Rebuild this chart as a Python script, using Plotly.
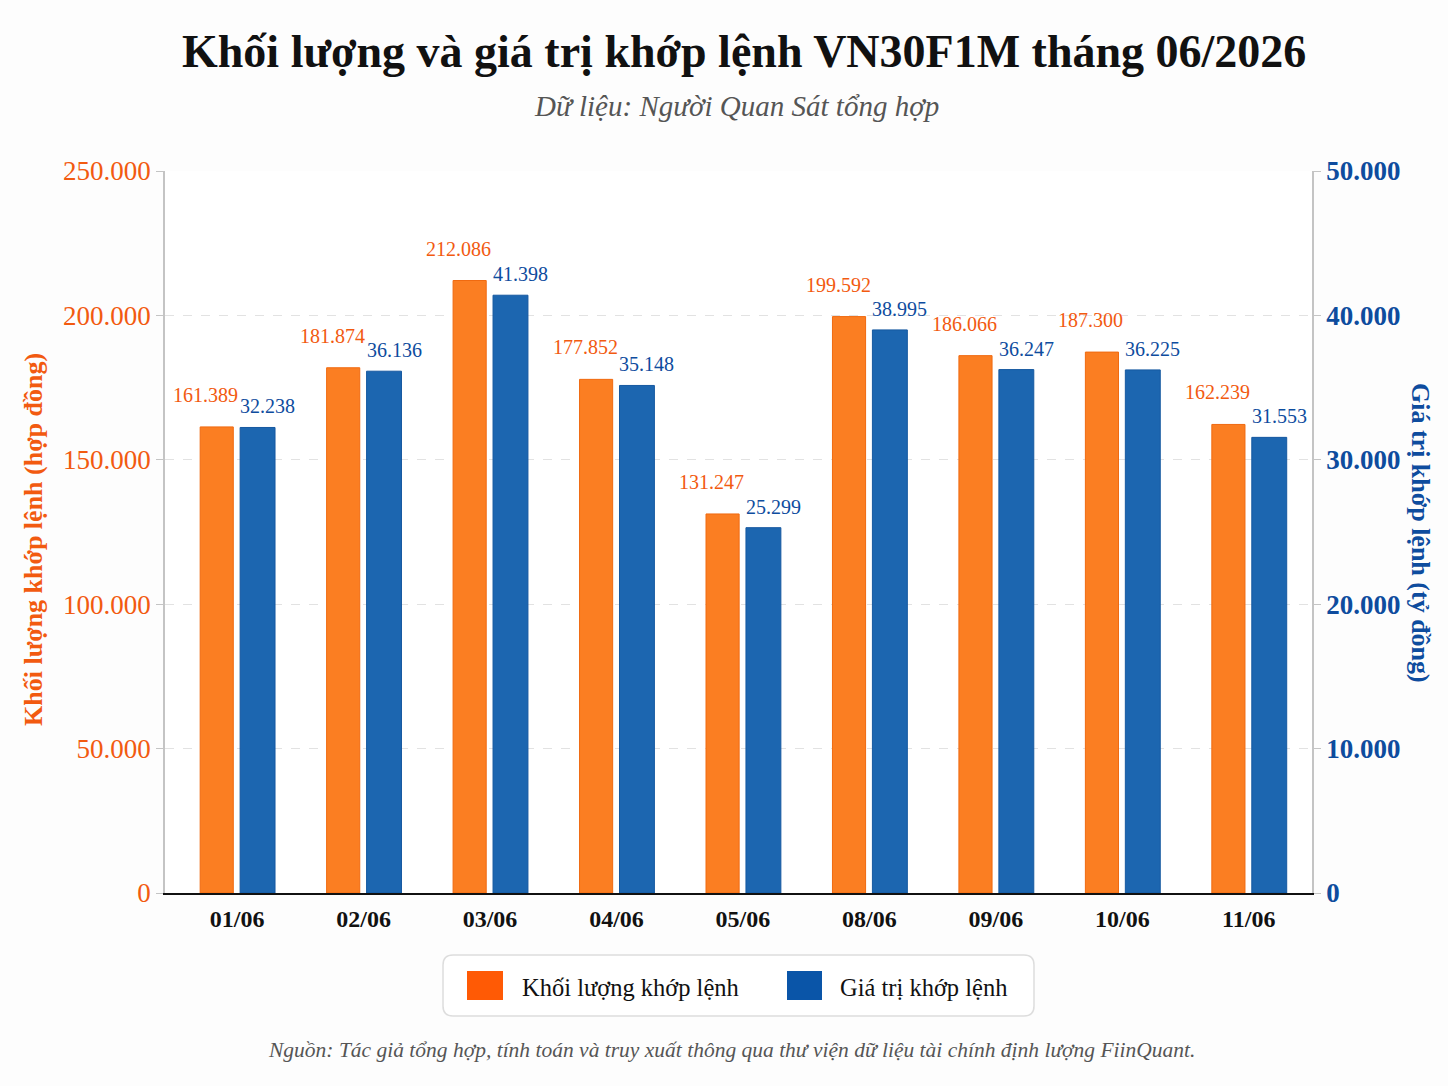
import plotly.graph_objects as go

# ---------------- data ----------------
dates = ["01/06", "02/06", "03/06", "04/06", "05/06", "08/06", "09/06", "10/06", "11/06"]
volume = [161389, 181874, 212086, 177852, 131247, 199592, 186066, 187300, 162239]
value = [32238, 36136, 41398, 35148, 25299, 38995, 36247, 36225, 31553]
left_ticks = [0, 50000, 100000, 150000, 200000, 250000]
right_ticks = [0, 10000, 20000, 30000, 40000, 50000]

title = "Khối lượng và giá trị khớp lệnh VN30F1M tháng 06/2026"
subtitle = "Dữ liệu: Người Quan Sát tổng hợp"
source = "Nguồn: Tác giả tổng hợp, tính toán và truy xuất thông qua thư viện dữ liệu tài chính định lượng FiinQuant."
name_vol = "Khối lượng khớp lệnh"
name_val = "Giá trị khớp lệnh"
ytitle_left = "Khối lượng khớp lệnh (hợp đồng)"
ytitle_right = "Giá trị khớp lệnh (tỷ đồng)"

# ---------------- style ----------------
W, H = 1448, 1086
ML, MR, MT, MB = 165, 136, 171, 193
PW, PH = W - ML - MR, H - MT - MB
SERIF = "Liberation Serif, DejaVu Serif, serif"
ORANGE_BAR = "#FB7E22"
BLUE_BAR = "#1C66B0"
ORANGE_TXT = "#F25A10"
BLUE_TXT = "#0E4C9E"
ORANGE_SW = "#FF5A05"
BLUE_SW = "#0A55A8"


def fmt(v):
    return f"{v:,}".replace(",", ".")


def px_x(x):
    return (x - ML) / PW


def px_y(y):
    return (H - MB - y) / PH


idx = list(range(len(dates)))
W_OR, OFF_OR = 0.262, -0.292
W_BL, OFF_BL = 0.276, 0.024

fig = go.Figure()
fig.add_trace(go.Bar(
    x=idx, y=volume, name=name_vol, width=W_OR, offset=OFF_OR,
    marker=dict(color=ORANGE_BAR, line=dict(color="#F06A10", width=1)),
    yaxis="y", showlegend=False, hoverinfo="skip",
))
fig.add_trace(go.Bar(
    x=idx, y=value, name=name_val, width=W_BL, offset=OFF_BL,
    marker=dict(color=BLUE_BAR, line=dict(color="#1558A0", width=1)),
    yaxis="y2", showlegend=False, hoverinfo="skip",
))

ann = []
for i, v in enumerate(volume):
    ann.append(dict(x=i + OFF_OR + W_OR / 2, y=v, xref="x", yref="y", text=fmt(v),
                    showarrow=False, yanchor="middle", xanchor="center", yshift=32, xshift=-11,
                    font=dict(family=SERIF, size=20, color=ORANGE_TXT)))
for i, v in enumerate(value):
    ann.append(dict(x=i + OFF_BL + W_BL / 2, y=v, xref="x", yref="y2", text=fmt(v),
                    showarrow=False, yanchor="middle", xanchor="center", yshift=21, xshift=10,
                    font=dict(family=SERIF, size=20, color=BLUE_TXT)))

pix = []
# titles (pixel positions)
pix.append(dict(x=744, y=52, text=f"<b>{title}</b>", xanchor="center",
                font=dict(family=SERIF, size=46, color="#111111")))
pix.append(dict(x=736, y=106, text=f"<i>{subtitle}</i>", xanchor="center",
                font=dict(family=SERIF, size=29, color="#555555")))
pix.append(dict(x=731, y=1050, text=f"<i>{source}</i>", xanchor="center",
                font=dict(family=SERIF, size=21.5, color="#555555")))
# axis titles
pix.append(dict(x=33, y=540, text=f"<b>{ytitle_left}</b>", xanchor="center", textangle=-90,
                font=dict(family=SERIF, size=26, color=ORANGE_TXT)))
pix.append(dict(x=1421, y=533, text=f"<b>{ytitle_right}</b>", xanchor="center", textangle=90,
                font=dict(family=SERIF, size=26, color=BLUE_TXT)))
# legend text
pix.append(dict(x=520, y=987, text=name_vol, xanchor="left",
                font=dict(family=SERIF, size=24.5, color="#111111")))
pix.append(dict(x=838, y=987, text=name_val, xanchor="left",
                font=dict(family=SERIF, size=24.5, color="#111111")))

for a in pix:
    a.update(xref="paper", yref="paper", showarrow=False, yanchor="middle",
             x=px_x(a["x"]), y=px_y(a["y"]))
    ann.append(a)

shapes = []
# legend box (rounded)
x0, x1, y0, y1, r = 443, 1034, 955, 1016, 10


def P(x, y):
    return f"{px_x(x)},{px_y(y)}"


path = (f"M {P(x0 + r, y0)} L {P(x1 - r, y0)} Q {P(x1, y0)} {P(x1, y0 + r)} "
        f"L {P(x1, y1 - r)} Q {P(x1, y1)} {P(x1 - r, y1)} L {P(x0 + r, y1)} "
        f"Q {P(x0, y1)} {P(x0, y1 - r)} L {P(x0, y0 + r)} Q {P(x0, y0)} {P(x0 + r, y0)} Z")
shapes.append(dict(type="path", path=path, xref="paper", yref="paper",
                   line=dict(color="#DDDDDD", width=1.5), fillcolor="white", layer="below"))
shapes.append(dict(type="rect", xref="paper", yref="paper", x0=px_x(467), x1=px_x(503), y0=px_y(1000), y1=px_y(971),
                   fillcolor=ORANGE_SW, line=dict(width=0)))
shapes.append(dict(type="rect", xref="paper", yref="paper", x0=px_x(787), x1=px_x(822), y0=px_y(1000), y1=px_y(971),
                   fillcolor=BLUE_SW, line=dict(width=0)))

fig.update_layout(
    width=W, height=H,
    margin=dict(l=ML, r=MR, t=MT, b=MB, pad=0),
    paper_bgcolor="#FDFDFD", plot_bgcolor="#FFFFFF",
    separators=",.",
    showlegend=False,
    annotations=ann,
    shapes=shapes,
    xaxis=dict(
        range=[-0.57, 8.5], tickmode="array", tickvals=idx, ticktext=dates,
        showgrid=False, zeroline=False, showline=True, linecolor="#111111", linewidth=2,
        ticks="", tickfont=dict(family=SERIF, size=24, color="#111111", weight="bold"),
        ticklabelstandoff=3,
    ),
    yaxis=dict(
        range=[0, 250000], tickmode="array", tickvals=left_ticks, tickformat=",d",
        showgrid=True, gridcolor="#E2E2E2", griddash="dash", gridwidth=1,
        zeroline=False, showline=True, linecolor="#C4C4C4", linewidth=1.5,
        ticks="outside", ticklen=7, tickcolor="#C4C4C4",
        tickfont=dict(family=SERIF, size=27, color=ORANGE_TXT),
    ),
    yaxis2=dict(
        range=[0, 50000], tickmode="array", tickvals=right_ticks, tickformat=",d",
        overlaying="y", side="right", showgrid=False, zeroline=False,
        showline=True, linecolor="#C4C4C4", linewidth=1.5,
        ticks="outside", ticklen=7, tickcolor="#C4C4C4",
        tickfont=dict(family=SERIF, size=27, color=BLUE_TXT, weight="bold"),
    ),
)

fig.write_html("out.html")
